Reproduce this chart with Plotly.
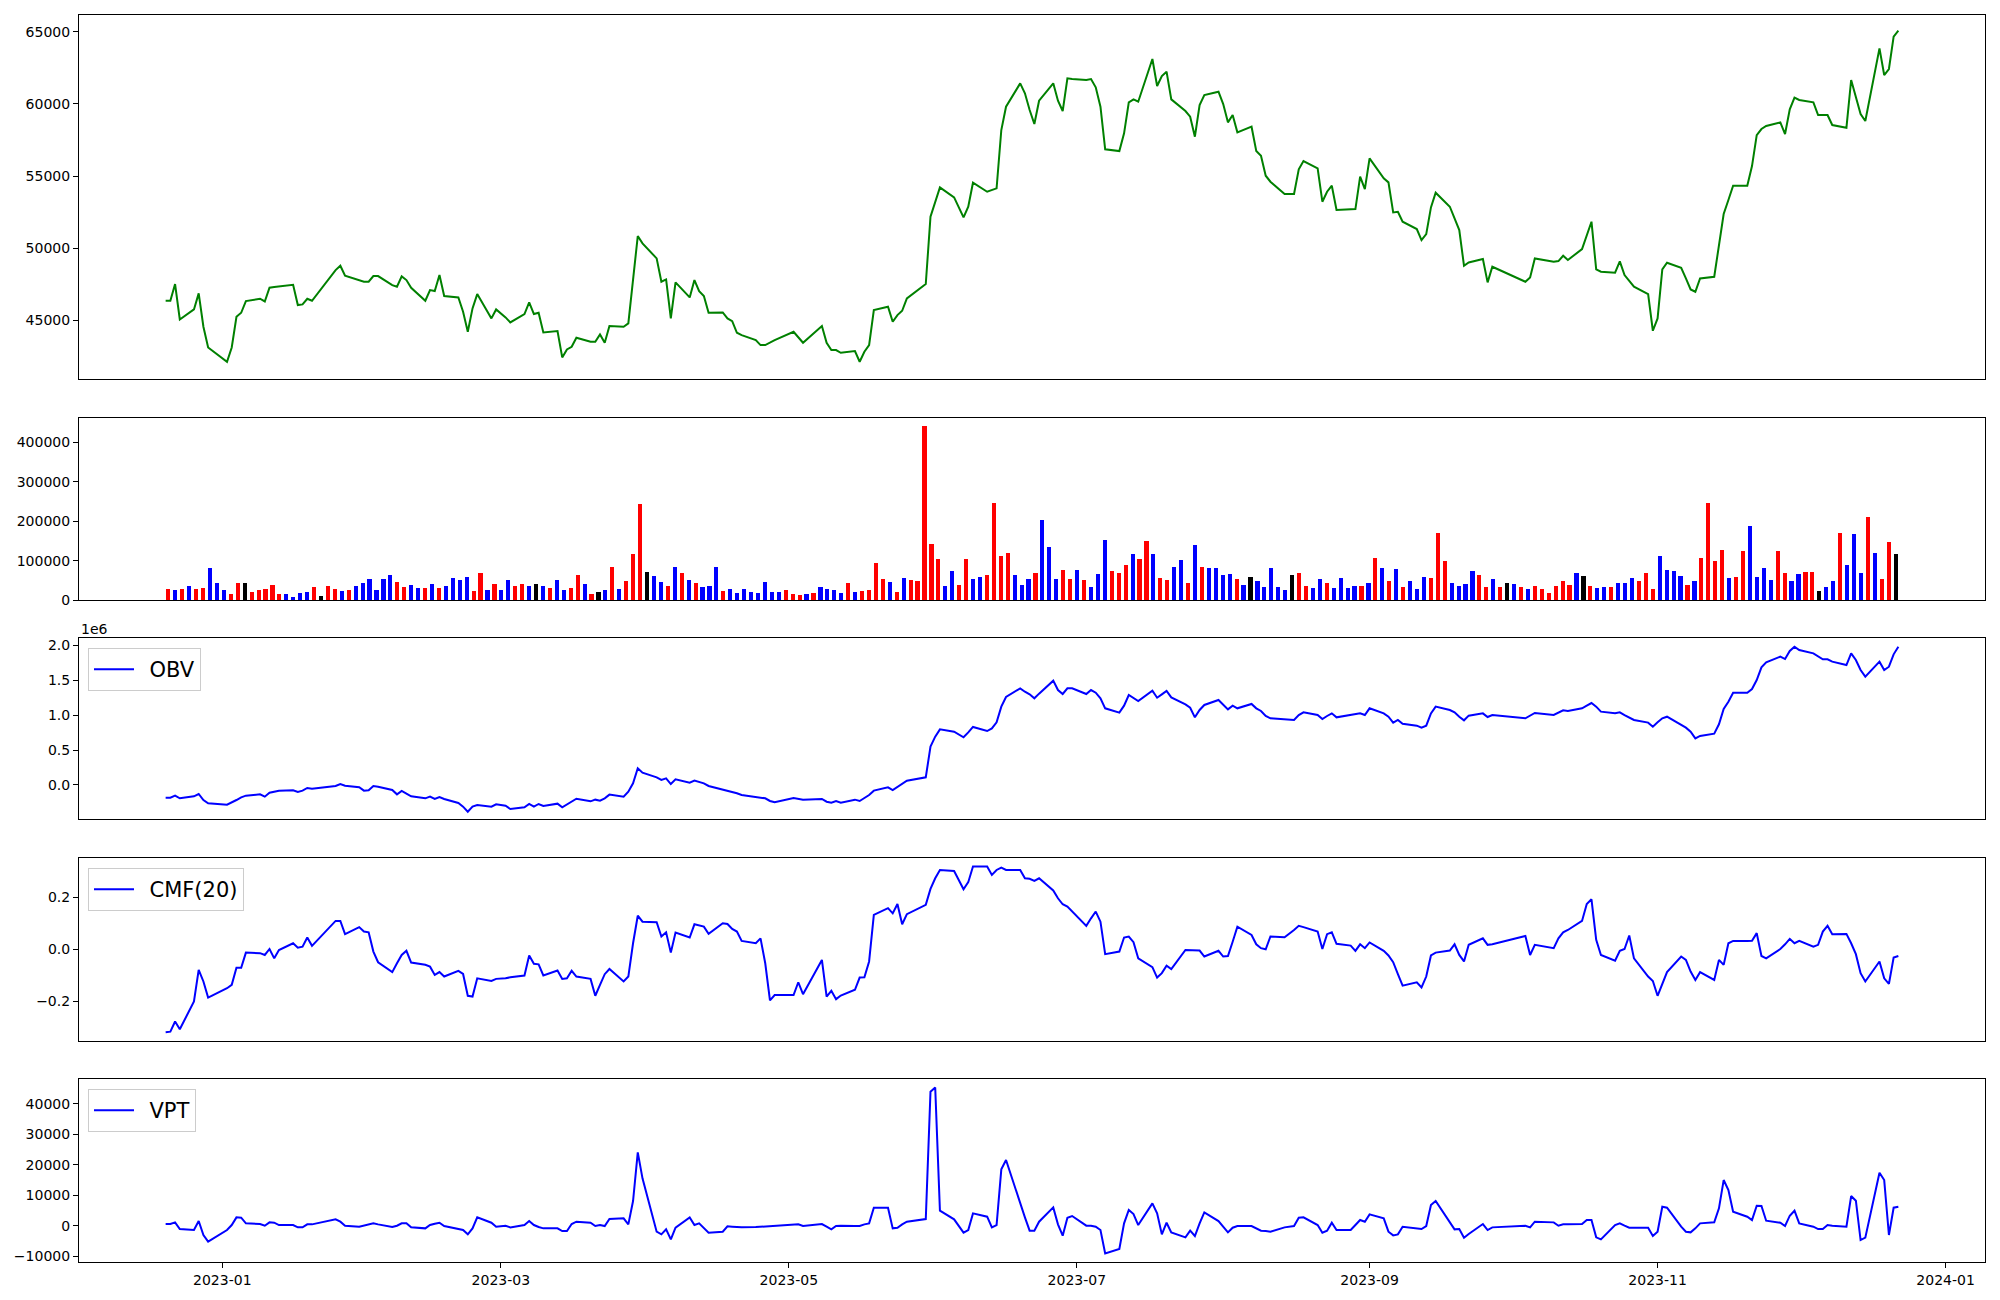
import pandas as pd
import plotly.graph_objects as go

# ---------------- data ----------------
start_date = "2022-12-20"
end_date = "2023-12-22"
krx_holidays = ["2022-12-30", "2023-01-23", "2023-01-24", "2023-03-01", "2023-05-01",
                "2023-05-05", "2023-05-29", "2023-06-06", "2023-08-15", "2023-09-28",
                "2023-09-29", "2023-10-02", "2023-10-03", "2023-10-09"]

price = [
    46350, 46350, 47506, 45050, 45748, 46860, 44546, 43110,
    42117, 43110, 45240, 45516, 46327, 46489, 46300, 47252, 47300, 47345, 47460, 46050, 46095, 46489, 46350, 48478, 48778, 48084, 47737, 47667,
    47667, 48061, 48061, 47437, 47320, 48038, 47784, 47252, 46350, 47090, 47020, 48130, 46674, 46580, 45586, 44199, 45817, 46812, 45124, 45748,
    45193, 44846, 45425, 46234, 45425, 45517, 44153, 44245, 42418, 42973, 43158, 43783, 43505, 43505, 44014, 43436, 44593, 44546, 44778, 47969, 50837, 50328,
    49288, 47668, 47830, 45124, 47622, 46580, 47784, 47020, 46674, 45517, 45540, 45124, 44939, 44129, 43968, 43620, 43272, 43272, 43435, 43620,
    44199, 43806, 43435, 44593, 43435, 42926, 42926, 42741, 42857, 42117, 42810, 43272, 45702, 45933, 44892, 45355, 45656, 46512, 47506, 52178,
    53196, 54214, 53520, 52132, 52872, 54537, 53913, 54029, 54144, 58192, 59811, 61430, 60737, 59580, 58608, 60228, 61430, 60228, 59511, 61777, 61731,
    61662, 61731, 61153, 59811, 56851, 56735, 57961, 60112, 60320, 60158, 63119, 61245, 61939, 62240, 60320, 59511, 59117, 57729, 59927, 60621, 60852,
    59996, 58724, 59233, 58030, 58424, 56735, 56411, 55024, 54607, 53751, 53751, 55463, 56041, 55532, 53219, 53913, 54329, 52641, 52687, 52710, 54954, 54098,
    56226, 54838, 54561, 52479, 52525, 51831, 51322, 50559, 50975, 52826, 53844, 52872, 52063, 51253, 48778, 49009, 49241, 47622, 48709,
    47668, 47968, 49287, 49056, 49102, 49472, 49172, 49935, 50883, 51832, 48524, 48362, 48293, 49079, 48131, 47738, 47321, 46812, 44268,
    45124, 48524, 48986, 48640, 47899, 47136, 46974, 47899, 48015, 50212, 52364, 53335, 54329, 54329, 55694, 57845, 58262, 58470, 58724, 57915, 59627, 60436,
    60274, 60112, 59233, 59233, 59233, 58539, 58354, 61662, 60505, 59302, 58817, 63859, 62009, 62425, 64669, 65085,
]

volume = [
    28800, 26300, 28800, 36400, 28800, 31400, 82200, 44100, 26300, 16100,
    44100, 44100, 21200, 26300, 28800, 39000, 16100, 16100, 8500, 18600,
    21200, 33900, 11000, 36400, 28800, 23700, 26300, 36400, 44100, 54200,
    26300, 54200, 64400, 46600, 33900, 39000, 31400, 31400, 41500, 31400,
    36400, 56800, 51700, 59300, 23700, 69500, 26300, 41500, 26300, 51700,
    36400, 41500, 36400, 41500, 36400, 31400, 51700, 26300, 31400, 64400,
    41500, 16100, 21200, 26300, 84800, 28800, 49200, 117800, 244900, 72000,
    61900, 46600, 36400, 84800, 69500, 51700, 44100, 33900, 36400, 84800,
    23700, 28800, 18600, 28800, 21200, 18600, 46600, 21200, 21200, 26300,
    16100, 13600, 16100, 18600, 33900, 28800, 26300, 18600, 44100, 21200,
    23700, 26300, 94900, 54200, 46600, 21200, 56800, 51700, 49200, 440700,
    143200, 105100, 36400, 74600, 39000, 105100, 54200, 59300, 64400, 247500,
    112700, 120300, 64400, 39000, 54200, 69500, 204200, 135600, 54200, 77100,
    54200, 77100, 51700, 33900, 67000, 153400, 74600, 69500, 89800, 117800,
    105100, 150900, 117800, 56800, 51700, 84800, 102500, 44100, 140700, 84800,
    82200, 82200, 64400, 67000, 54200, 39000, 59300, 49200, 33900, 82200,
    33900, 26300, 64400, 69500, 36400, 31400, 54200, 44100, 31400, 56800,
    31400, 36400, 36400, 44100, 107600, 82200, 49200, 79700, 33900, 49200,
    28800, 59300, 56800, 171200, 100000, 44100, 36400, 41500, 74600, 64400,
    33900, 54200, 33900, 44100, 41500, 33900, 28800, 36400, 28800, 18600,
    36400, 49200, 39000, 69500, 61900, 36400, 31400, 33900, 33900, 44100,
    44100, 56800, 49200, 69500, 28800, 112700, 77100, 74600, 61900, 39000,
    49200, 107600, 247500, 100000, 128000, 56800, 59300, 125400, 189000, 59300,
    82200, 51700, 125400, 69500, 49200, 67000, 72000, 72000, 23700, 33900,
    49200, 171200, 89800, 168700, 69500, 211900, 120300, 54200, 148300, 117800,
]

volume_dir = list(
    "rbrbrrbbbr" "rkrrrrrbbb" "brkrrbrbbb" "bbbrrbbrbr" "bbbbrrbrbb"
    "rrbkbrbbrr" "brkbrbrrrk" "bbrbrbrbbb" "rbbbbbbbbr" "rrbrbbbbrb"
    "rrrrbrbrrr" "rrbbrrbbrr" "rrbbbrbbbr" "rbrbbbrrrb" "rrbrrbbrbr"
    "bbbbrbkbbb" "bbkrrbbrbb" "bbrbrbrbrb" "bbrrrbbbbr" "rbrkbrbrrr"
    "rrrbkrbbrb" "bbrrrbbbbr" "brrrrbrrbb" "bbrrbbrrkb" "brbbbrbrrk"
)
dir_colors = {"r": "red", "b": "blue", "k": "black"}

obv_k = [
    -181, -181, -153, -191, -162, -129, -215, -263,
    -282, -253, -215, -177, -153, -134, -167, -110, -91, -81, -76, -100, -81, -43, -53, -14, 14, -10, -33, -81,
    -76, -14, -24, -72, -134, -86, -124, -162, -191, -167, -200, -172, -200, -258, -310, -382, -310, -286, -310, -277,
    -296, -344, -320, -272, -310, -272, -301, -267, -320, -277, -239, -196, -234, -210, -224, -191, -138, -167, -95, 24, 239, 177,
    110, 72, 95, 14, 81, 33, 62, 48, 24, -14, -67, -81, -95, -119, -143, -172, -177, -191, -229, -248,
    -186, -196, -210, -200, -239, -253, -229, -253, -210, -229, -191, -143, -81, -33, -72, -24, 24, 62, 110, 549,
    692, 797, 764, 683, 754, 831, 773, 811, 897, 1122, 1260, 1384, 1336, 1298, 1241, 1308, 1494, 1360, 1303, 1384, 1384,
    1303, 1360, 1322, 1241, 1098, 1036, 1136, 1289, 1241, 1203, 1351, 1250, 1298, 1346, 1255, 1155, 1107, 969, 1074, 1146, 1217,
    1146, 1083, 1136, 1098, 1160, 1098, 1060, 988, 955, 935, 931, 1002, 1041, 1002, 945, 988, 1026, 969, 1002, 1017, 1026, 1002,
    1098, 1026, 978, 893, 931, 878, 850, 821, 850, 1026, 1122, 1074, 1041, 978, 926, 993, 1026, 974, 1002,
    955, 988, 1031, 1002, 1041, 1069, 1060, 1098, 1136, 1174, 1122, 1050, 1026, 1041, 1002, 964, 931, 893, 835,
    897, 955, 978, 864, 821, 764, 668, 702, 735, 869, 1088, 1193, 1322, 1322, 1375, 1503, 1685, 1756, 1838, 1804, 1919, 1981,
    1933, 1885, 1838, 1799, 1799, 1766, 1718, 1885, 1790, 1647, 1551, 1766, 1647, 1694, 1871, 1981,
]

cmf20 = [
    -0.319, -0.317, -0.278, -0.308, -0.201, -0.079, -0.124, -0.186,
    -0.150, -0.137, -0.071, -0.071, -0.013, -0.015, -0.022, 0.001, -0.035, -0.003, 0.023, 0.006, 0.010, 0.045, 0.013, 0.109, 0.109, 0.058, 0.085, 0.068,
    0.065, -0.009, -0.050, -0.088, -0.054, -0.022, -0.006, -0.051, -0.060, -0.067, -0.099, -0.088, -0.105, -0.083, -0.095, -0.179, -0.182, -0.112, -0.122, -0.114,
    -0.112, -0.108, -0.101, -0.024, -0.056, -0.058, -0.101, -0.082, -0.114, -0.112, -0.083, -0.105, -0.114, -0.179, -0.137, -0.096, -0.076, -0.124, -0.105, 0.023, 0.129, 0.106,
    0.104, 0.049, 0.065, -0.013, 0.064, 0.045, 0.096, 0.091, 0.087, 0.059, 0.100, 0.097, 0.078, 0.068, 0.032, 0.023, 0.042, -0.054, -0.197, -0.176,
    -0.176, -0.127, -0.173, -0.041, -0.182, -0.160, -0.192, -0.178, -0.156, -0.109, -0.108, -0.047, 0.132, 0.158, 0.138, 0.174, 0.096, 0.135, 0.171, 0.232,
    0.273, 0.305, 0.301, 0.231, 0.258, 0.318, 0.318, 0.286, 0.305, 0.314, 0.305, 0.305, 0.273, 0.271, 0.263, 0.273, 0.226, 0.196, 0.173, 0.164, 0.145,
    0.090, 0.119, 0.145, 0.106, -0.019, -0.009, 0.045, 0.049, 0.027, -0.035, -0.069, -0.109, -0.092, -0.063, -0.076, -0.003, -0.003, -0.003, -0.005, -0.028, -0.006,
    -0.028, -0.026, 0.029, 0.087, 0.055, 0.019, 0.004, 0.000, 0.049, 0.046, 0.074, 0.090, 0.085, 0.068, 0.001, 0.058, 0.065, 0.021, 0.014, -0.006, 0.019, 0.004,
    0.026, -0.006, -0.024, -0.050, -0.096, -0.140, -0.127, -0.147, -0.105, -0.024, -0.013, -0.005, 0.019, -0.022, -0.047, 0.017, 0.042, 0.017, 0.019,
    0.051, -0.022, 0.017, 0.004, 0.042, 0.065, 0.074, 0.109, 0.174, 0.192, 0.036, -0.022, -0.044, -0.006, 0.001, 0.053, -0.035, -0.105, -0.122,
    -0.179, -0.131, -0.088, -0.028, -0.041, -0.086, -0.118, -0.088, -0.118, -0.041, -0.060, 0.023, 0.032, 0.032, 0.033, 0.062, -0.026, -0.035, 0.001, 0.019, 0.040, 0.023,
    0.032, 0.010, 0.017, 0.068, 0.090, 0.058, 0.059, 0.023, -0.019, -0.092, -0.124, -0.047, -0.112, -0.133, -0.032, -0.026,
]

vpt = [
    548, 548, 1095, -1095, -1424, 1533, -3066, -5256,
    -1424, 219, 2738, 2628, 767, 548, 0, 1095, 986, 219, 219, -548, -548, 438, 438, 2081, 1314, 0, -329, 0,
    438, 767, 438, -438, 0, 767, 767, -548, -876, 219, 657, 986, -110, -1095, -1424, -2847, -876, 2738, 986, -329,
    0, -548, 219, 1533, 219, -438, -876, -876, -1752, -1752, 548, 1314, 986, -110, 219, -110, 2190, 2409, 438, 8103, 24090, 15549,
    -1971, -2847, -1205, -4490, -657, 2738, 219, 767, -657, -2300, -1971, -219, -329, -438, -548, -438, -329, -110, 0, 110,
    548, 438, -110, 548, -329, -1205, -110, 0, -110, -110, 438, 767, 5913, 5913, -876, -657, 438, 1314, 2190, 44019,
    45443, 4928, 2081, -2300, -1424, 4052, 2957, -548, 219, 18506, 21572, 7118, 2738, -1643, -1643, 1314, 6023, 438, -3285, 2628, 3176,
    0, 0, -329, -1424, -9089, -7665, 767, 5147, 3833, 219, 7337, 4052, -2847, 986, -2190, -3833, -1643, -3395, 767, 4380, 1533,
    -329, -2190, -657, -110, -110, -876, -1643, -1752, -1971, -548, -110, 2628, 2738, 219, -2300, -1643, 986, -1424, -1424, 219, 1862, 1314,
    3723, 2409, -1971, -3176, -2847, -329, -876, -1095, -110, 6789, 8103, 986, -1205, -1095, -3942, -2738, 548, -1424, -548,
    0, -548, 1314, 1095, 0, 438, 438, 548, 1862, 1862, -3833, -4490, 219, 767, 0, -657, -657, -657, -3395,
    -1971, 6242, 5913, -329, -1971, -2190, -876, 767, 1095, 5694, 15002, 11717, 4599, 2957, 1862, 6570, 6461, 1643, 986, -110, 3285, 4928,
    767, -329, -1095, -1095, 219, 0, -329, 9746, 8213, -4709, -3942, 17411, 15002, -3066, 5913, 6242,
]

x_tick_format = "%Y-%m"
obv_ticks = [0, 500, 1000, 1500, 2000]
obv_ticktext = ["0.0", "0.5", "1.0", "1.5", "2.0"]
cmf_ticks = [-0.2, 0.0, 0.2]
cmf_ticktext = ["\u22120.2", "0.0", "0.2"]
vpt_ticks = [-10000, 0, 10000, 20000, 30000, 40000]
vpt_ticktext = ["\u221210000", "0", "10000", "20000", "30000", "40000"]

# ---------------- build ----------------
bdays = pd.bdate_range(start_date, end_date)
hol = pd.to_datetime(krx_holidays)
dates = [d for d in bdays if d not in hol]
n = len(dates)
assert n == len(price) == len(volume) == len(volume_dir) == len(obv_k) == len(cmf20) == len(vpt), \
    (n, len(price), len(volume), len(volume_dir), len(obv_k), len(cmf20), len(vpt))

FONT = "DejaVu Sans"
W, H = 2000, 1300
ML, MR, MT, MB = 79, 15, 15, 38
PH = H - MT - MB
PW = W - ML - MR


def dom(top_px, bot_px):
    return [(H - MB - bot_px) / PH, (H - MB - top_px) / PH]


def ly(top_px):
    return (H - MB - top_px) / PH


GAP = "\u2002"

fig = go.Figure()
fig.add_trace(go.Scatter(x=dates, y=price, mode="lines", line=dict(color="green", width=2),
                         xaxis="x", yaxis="y", showlegend=False))
fig.add_trace(go.Bar(x=list(range(n)), y=volume, marker=dict(color=[dir_colors[c] for c in volume_dir], line=dict(width=0)),
                     width=0.6, xaxis="x2", yaxis="y2", showlegend=False))
fig.add_trace(go.Scatter(x=dates, y=obv_k, mode="lines", line=dict(color="blue", width=2), name=GAP + "OBV",
                         xaxis="x3", yaxis="y3", legend="legend"))
fig.add_trace(go.Scatter(x=dates, y=cmf20, mode="lines", line=dict(color="blue", width=2), name=GAP + "CMF(20)",
                         xaxis="x4", yaxis="y4", legend="legend2"))
fig.add_trace(go.Scatter(x=dates, y=vpt, mode="lines", line=dict(color="blue", width=2), name=GAP + "VPT",
                         xaxis="x5", yaxis="y5", legend="legend3"))

axis_style = dict(showline=True, linecolor="black", linewidth=1.1, mirror=True, ticks="outside",
                  ticklen=5, tickwidth=1.1, tickcolor="black", showgrid=False, zeroline=False,
                  tickfont=dict(family=FONT, size=14, color="black"))

xrange_dates = ["2022-12-01 15:36", "2024-01-09 08:24"]
date_ax = dict(axis_style, type="date", range=xrange_dates, dtick="M2", tick0="2023-01-01",
               tickformat=x_tick_format)

d_price = dom(15, 379)
d_vol = dom(418, 600)
d_obv = dom(638, 819)
d_cmf = dom(858, 1041)
d_vpt = dom(1079, 1262)

legend_style = dict(xanchor="left", yanchor="top", bgcolor="rgba(255,255,255,0.8)",
                    bordercolor="#cccccc", borderwidth=1, font=dict(family=FONT, size=21, color="black"),
                    itemwidth=40, tracegroupgap=0)
lx = (88 - ML) / PW

fig.update_layout(
    width=W, height=H,
    margin=dict(l=ML, r=MR, t=MT, b=MB, pad=0),
    paper_bgcolor="white", plot_bgcolor="white",
    font=dict(family=FONT, size=14, color="black"),
    bargap=0,
    xaxis=dict(date_ax, domain=[0, 1], anchor="y", showticklabels=False, ticks=""),
    yaxis=dict(axis_style, domain=d_price, anchor="x", range=[40921, 66172], dtick=5000, tick0=0, tickformat="d"),
    xaxis2=dict(axis_style, domain=[0, 1], anchor="y2", range=[-12.89, 261.89], showticklabels=False, ticks=""),
    yaxis2=dict(axis_style, domain=d_vol, anchor="x2", range=[0, 462000], dtick=100000, tick0=0, tickformat="d"),
    xaxis3=dict(date_ax, domain=[0, 1], anchor="y3", matches="x", showticklabels=False, ticks=""),
    yaxis3=dict(axis_style, domain=d_obv, anchor="x3", range=[-487, 2105], tickvals=obv_ticks, ticktext=obv_ticktext),
    xaxis4=dict(date_ax, domain=[0, 1], anchor="y4", matches="x", showticklabels=False, ticks=""),
    yaxis4=dict(axis_style, domain=d_cmf, anchor="x4", range=[-0.353, 0.351], tickvals=cmf_ticks, ticktext=cmf_ticktext),
    xaxis5=dict(date_ax, domain=[0, 1], anchor="y5", matches="x", showticklabels=True),
    yaxis5=dict(axis_style, domain=d_vpt, anchor="x5", range=[-11930, 48210], tickvals=vpt_ticks, ticktext=vpt_ticktext),
    legend=dict(legend_style, x=lx, y=ly(648)),
    legend2=dict(legend_style, x=lx, y=ly(868)),
    legend3=dict(legend_style, x=lx, y=ly(1089)),
    annotations=[dict(text="1e6", xref="paper", yref="paper", x=0, y=ly(629), xanchor="left", yanchor="middle",
                      showarrow=False, font=dict(family=FONT, size=14, color="black"))],
)

fig.write_html("out.html", config={"displayModeBar": False},
               post_script="document.body.style.margin='0';")
